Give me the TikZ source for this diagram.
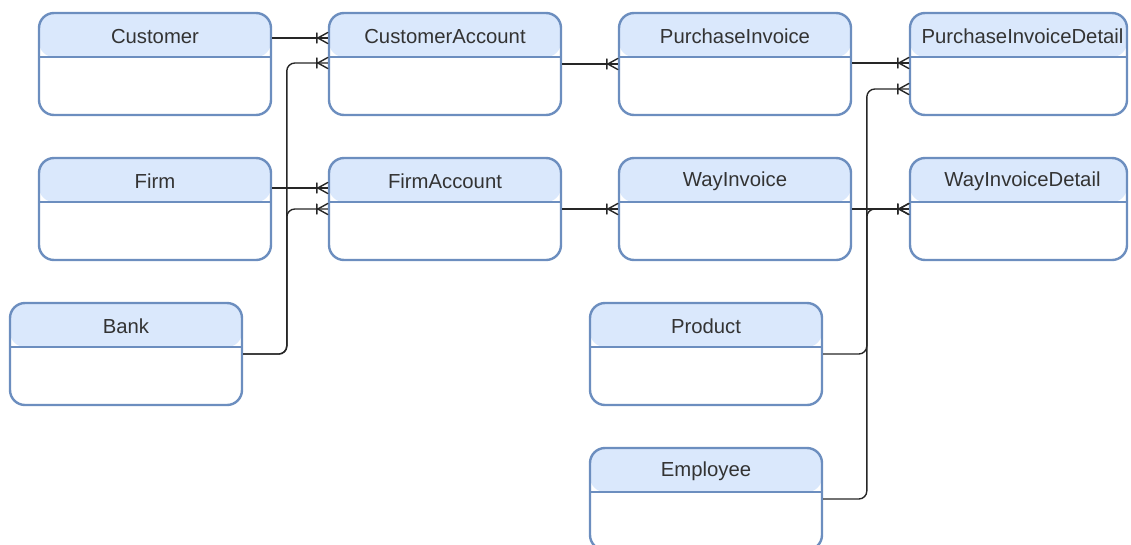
\documentclass[tikz,border=0pt]{standalone}
\usepackage{fontspec}
\setmainfont{Liberation Sans}
\usetikzlibrary{decorations.markings}

\definecolor{hd}{HTML}{DAE8FC}
\definecolor{bd}{HTML}{6C8EBF}
\definecolor{tx}{HTML}{333333}

\tikzset{
  entity/.style={draw=bd, line width=2.4pt, rounded corners=15pt, fill=white,
    minimum width=#1, minimum height=102pt, inner sep=0pt,
    path picture={
      \fill[hd] (path picture bounding box.north west)
        rectangle ([yshift=-44pt]path picture bounding box.north east);
      \draw[bd, line width=2.4pt]
        ([yshift=-44pt]path picture bounding box.north west)
        -- ([yshift=-44pt]path picture bounding box.north east);
    }},
  entity/.default=232pt,
  title/.style={text=tx, font=\fontsize{20.3pt}{23pt}\selectfont, inner sep=0pt},
  conn/.style={draw=black!85, line width=1.4pt, rounded corners=8pt},
  many/.style={postaction={decorate, decoration={markings,
      mark=at position 1 with {
        \draw[black!85, line width=1.4pt, line cap=round]
          (-10pt,0) -- (0,5.5pt) (-10pt,0) -- (0,-5.5pt)
          (-11pt,5pt) -- (-11pt,-5pt);
      }}}}
}

\begin{document}
\begin{tikzpicture}
\useasboundingbox (0,0) rectangle (1131pt,-544pt);

% entity boxes
\node[entity] (cust)  at (155pt,-64pt)  {};
\node[entity] (custacc) at (445pt,-64pt) {};
\node[entity] (pinv)  at (735pt,-64pt)  {};
\node[entity=217pt] (pid) at (1018.5pt,-64pt) {};

\node[entity] (firm)  at (155pt,-209pt) {};
\node[entity] (firmacc) at (445pt,-209pt) {};
\node[entity] (winv)  at (735pt,-209pt) {};
\node[entity=217pt] (wid) at (1018.5pt,-209pt) {};

\node[entity] (bank)  at (126pt,-354pt) {};
\node[entity] (prod)  at (706pt,-354pt) {};
\node[entity] (emp)   at (706pt,-499pt) {};

% titles
\node[title] (cust-t)    at ([yshift=-24.5pt]cust.north)    {Customer};
\node[title] (custacc-t) at ([yshift=-24.5pt]custacc.north) {CustomerAccount};
\node[title] (pinv-t)    at ([yshift=-24.5pt]pinv.north)    {PurchaseInvoice};
\node[title] (pid-t)     at ([xshift=4pt,yshift=-24.5pt]pid.north) {PurchaseInvoiceDetail};
\node[title] (firm-t)    at ([yshift=-24.5pt]firm.north)    {Firm};
\node[title] (firmacc-t) at ([yshift=-24.5pt]firmacc.north) {FirmAccount};
\node[title] (winv-t)    at ([yshift=-24.5pt]winv.north)    {WayInvoice};
\node[title] (wid-t)     at ([xshift=4pt,yshift=-24.5pt]wid.north) {WayInvoiceDetail};
\node[title] (bank-t)    at ([yshift=-24.5pt]bank.north)    {Bank};
\node[title] (prod-t)    at ([yshift=-24.5pt]prod.north)    {Product};
\node[title] (emp-t)     at ([yshift=-24.5pt]emp.north)     {Employee};

% relationships
\draw[conn,many] ([yshift=26pt]cust.east) -- ([yshift=26pt]custacc.west);
\draw[conn,many] (bank.east) -| ([xshift=-41pt,yshift=1pt]custacc.west) -- ([yshift=1pt]custacc.west);
\draw[conn,many] ([yshift=21pt]firm.east) -- ([yshift=21pt]firmacc.west);
\draw[conn,many] (bank.east) -| ([xshift=-41pt]firmacc.west) -- (firmacc.west);

\draw[conn,many] (custacc.east) -- (pinv.west);
\draw[conn,many] (firmacc.east) -- (winv.west);

\draw[conn,many] ([yshift=1pt]pinv.east) -- ([yshift=1pt]pid.west);
\draw[conn,many] (prod.east) -| ([xshift=-42pt,yshift=-25pt]pid.west) -- ([yshift=-25pt]pid.west);
\draw[conn,many] (winv.east) -- (wid.west);
\draw[conn,many] (emp.east) -| ([xshift=-42pt]wid.west) -- (wid.west);
\end{tikzpicture}
\end{document}
